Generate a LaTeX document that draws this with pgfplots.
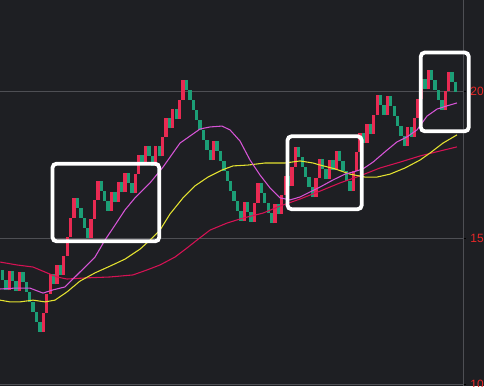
\documentclass[border=0pt]{standalone}
\usepackage{pgfplots}
\pgfplotsset{compat=1.18}
\usepackage{fontspec}
\setmainfont{Liberation Sans}
\definecolor{bg}{RGB}{30,31,35}
\definecolor{upred}{RGB}{232,42,82}
\definecolor{dngreen}{RGB}{28,158,118}
\definecolor{ma1}{RGB}{214,84,214}
\definecolor{ma2}{RGB}{228,226,48}
\definecolor{ma3}{RGB}{214,18,84}
\definecolor{gridc}{RGB}{78,79,84}
\definecolor{lab}{RGB}{232,40,40}
\begin{document}
\begin{tikzpicture}
\fill[bg] (0,0) rectangle (363pt,289.5pt);
\begin{axis}[
  at={(0,0)}, anchor=south west,
  scale only axis, width=347.25pt, height=289.5pt,
  xmin=0.266, xmax=136.2, ymin=9.959, ymax=23.133,
  axis x line=none, axis y line*=right,
  axis line style={gridc, line width=0.75pt},
  ytick={10,15,20},
  ymajorgrids, grid style={gridc, line width=0.75pt},
  tick align=outside, major tick length=2pt,
  tick style={black, line width=0.75pt},
  yticklabel style={lab, font=\fontsize{9}{10}\selectfont},
  /pgf/number format/assume math mode=true,
  clip=false,
]
% up bricks: index, open, close
\addplot[draw=upred, line width=2.5pt, quiver={u=0, v=\thisrow{c}-\thisrow{o}}] table[x=i, y=o]{
i o c
3 13.222 13.877
6 13.195 13.850
13 11.804 12.459
14 12.459 13.114
15 13.114 13.769
17 13.428 14.083
19 13.742 14.397
20 14.397 15.052
21 15.052 15.707
22 15.707 16.362
27 14.998 15.653
28 15.653 16.308
29 16.308 16.963
33 15.940 16.595
35 16.254 16.909
37 16.568 17.223
40 16.541 17.196
41 17.196 17.851
43 17.510 18.165
46 17.483 18.138
48 17.797 18.452
49 18.452 19.107
51 18.766 19.421
53 19.080 19.735
54 19.735 20.390
63 17.662 18.317
72 15.589 16.244
75 15.562 16.217
76 16.217 16.872
81 15.508 16.163
83 15.822 16.477
84 16.477 17.132
86 16.791 17.446
87 17.446 18.101
93 16.396 17.051
94 17.051 17.706
97 17.024 17.679
99 17.338 17.993
104 16.629 17.284
105 17.284 17.939
106 17.939 18.594
108 18.253 18.908
110 18.567 19.222
111 19.222 19.877
114 19.195 19.850
120 18.145 18.800
122 18.459 19.114
123 19.114 19.769
124 19.769 20.424
126 20.083 20.738
131 19.374 20.029
132 20.029 20.684
};
% down bricks
\addplot[draw=dngreen, line width=2.5pt, quiver={u=0, v=\thisrow{c}-\thisrow{o}}] table[x=i, y=o]{
i o c
1 13.904 13.563
2 13.563 13.222
4 13.877 13.536
5 13.536 13.195
7 13.850 13.509
8 13.509 13.168
9 13.168 12.827
10 12.827 12.486
11 12.486 12.145
12 12.145 11.804
16 13.769 13.428
18 14.083 13.742
23 16.362 16.021
24 16.021 15.680
25 15.680 15.339
26 15.339 14.998
30 16.963 16.622
31 16.622 16.281
32 16.281 15.940
34 16.595 16.254
36 16.909 16.568
38 17.223 16.882
39 16.882 16.541
42 17.851 17.510
44 18.165 17.824
45 17.824 17.483
47 18.138 17.797
50 19.107 18.766
52 19.421 19.080
55 20.390 20.049
56 20.049 19.708
57 19.708 19.367
58 19.367 19.026
59 19.026 18.685
60 18.685 18.344
61 18.344 18.003
62 18.003 17.662
64 18.317 17.976
65 17.976 17.635
66 17.635 17.294
67 17.294 16.953
68 16.953 16.612
69 16.612 16.271
70 16.271 15.930
71 15.930 15.589
73 16.244 15.903
74 15.903 15.562
77 16.872 16.531
78 16.531 16.190
79 16.190 15.849
80 15.849 15.508
82 16.163 15.822
85 17.132 16.791
88 18.101 17.760
89 17.760 17.419
90 17.419 17.078
91 17.078 16.737
92 16.737 16.396
95 17.706 17.365
96 17.365 17.024
98 17.679 17.338
100 17.993 17.652
101 17.652 17.311
102 17.311 16.970
103 16.970 16.629
107 18.594 18.253
109 18.908 18.567
112 19.877 19.536
113 19.536 19.195
115 19.850 19.509
116 19.509 19.168
117 19.168 18.827
118 18.827 18.486
119 18.486 18.145
121 18.800 18.459
125 20.424 20.083
127 20.738 20.397
128 20.397 20.056
129 20.056 19.715
130 19.715 19.374
133 20.684 20.343
134 20.343 20.002
};
% long MA (crimson)
\addplot[ma3, line width=0.8pt] coordinates {
(0.27,14.19)(5.26,14.09)(9.95,14.02)(14.07,13.82)(17.00,13.68)(19.94,13.61)
(25.81,13.65)(32.56,13.68)(39.31,13.75)(43.43,13.92)(47.24,14.09)(51.64,14.36)
(55.17,14.67)(58.11,14.94)(61.92,15.28)(66.91,15.52)(71.61,15.69)(77.48,15.86)
(82.47,16.10)(88.35,16.34)(94.22,16.61)(100.09,16.89)(105.96,17.13)(111.83,17.40)
(117.71,17.60)(123.58,17.81)(129.45,17.98)(134.44,18.12)
};
% mid MA (yellow)
\addplot[ma2, line width=0.8pt] coordinates {
(0.27,12.89)(3.20,12.83)(6.14,12.83)(9.95,12.89)(13.48,12.83)(16.41,12.89)
(19.94,13.17)(23.75,13.54)(28.16,13.82)(32.56,14.05)(36.97,14.29)(41.37,14.63)
(44.31,14.94)(47.24,15.28)(50.18,15.83)(54.00,16.38)(57.52,16.79)(61.33,17.09)
(65.44,17.33)(68.67,17.47)(73.08,17.50)(78.07,17.57)(83.94,17.57)(88.35,17.64)
(92.16,17.57)(94.22,17.50)(98.62,17.37)(103.03,17.19)(107.43,17.09)(110.95,17.09)
(114.77,17.19)(119.17,17.40)(123.58,17.67)(126.51,17.91)(130.33,18.25)(134.44,18.53)
};
% short MA (pink)
\addplot[ma1, line width=0.8pt] coordinates {
(0.27,13.27)(4.67,13.30)(9.07,13.30)(12.89,13.13)(15.83,13.24)(19.35,13.34)
(22.29,13.68)(25.22,14.02)(28.16,14.36)(31.09,14.94)(34.03,15.45)(36.97,15.97)
(39.90,16.38)(44.31,16.89)(48.12,17.43)(53.11,18.25)(56.05,18.49)(58.99,18.73)
(61.92,18.80)(65.44,18.83)(67.79,18.70)(70.73,18.32)(73.67,17.67)(76.60,17.16)
(79.54,16.72)(82.47,16.38)(85.41,16.31)(88.35,16.41)(91.28,16.58)(94.22,16.75)
(98.03,16.99)(101.56,17.19)(103.91,17.26)(106.84,17.37)(109.78,17.60)(113.89,18.01)
(116.82,18.29)(119.76,18.46)(122.70,18.70)(125.63,19.17)(128.57,19.41)(131.50,19.52)
(134.44,19.62)
};
\end{axis}
\begin{scope}[x=0.75pt, y=-0.75pt, shift={(0,289.5pt)}]
  \draw[white, line width=2.85pt, rounded corners=3pt] (52.5,163.7) rectangle (159.2,241.3);
  \draw[white, line width=2.85pt, rounded corners=3pt] (287.5,136.3) rectangle (361.7,209.2);
  \draw[white, line width=2.85pt, rounded corners=3pt] (420.8,52.5) rectangle (468.7,131.3);
\end{scope}
\pgfresetboundingbox
\useasboundingbox (0,0) rectangle (363pt,289.5pt);
\end{tikzpicture}
\end{document}
